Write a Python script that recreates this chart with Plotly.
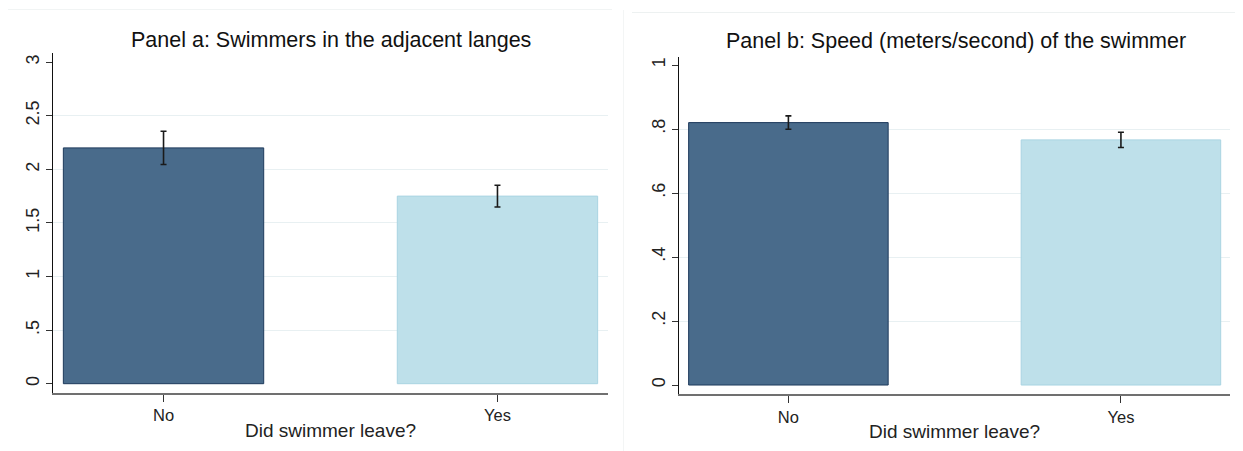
import plotly.graph_objects as go

categories = ["No", "Yes"]

# Panel a: swimmers in the adjacent lanes
panel_a_means = [2.20, 1.75]
panel_a_err = [0.155, 0.102]

# Panel b: speed (m/s)
panel_b_means = [0.820, 0.766]
panel_b_err = [0.021, 0.024]

panel_a_ticks = [0, 0.5, 1, 1.5, 2, 2.5, 3]
panel_a_ticktext = ["0", ".5", "1", "1.5", "2", "2.5", "3"]
panel_a_grid = [0.5, 1, 1.5, 2, 2.5]
panel_b_ticks = [0, 0.2, 0.4, 0.6, 0.8, 1]
panel_b_ticktext = ["0", ".2", ".4", ".6", ".8", "1"]
panel_b_grid = [0.2, 0.4, 0.6, 0.8]

bar_fill = ["#496B8B", "#BEE0EA"]
bar_line = ["#1E3A5C", "#A9D4E2"]

W, H = 1243, 451
OFF = 8  # page body margin
FONT = "Liberation Sans, Arial, sans-serif"

fig = go.Figure()

fig.add_trace(go.Bar(
    x=[0, 1], y=panel_a_means, width=0.6,
    marker=dict(color=bar_fill, line=dict(color=bar_line, width=1)),
    error_y=dict(type="data", array=panel_a_err, visible=True,
                 color="#1a1a1a", thickness=1.6, width=3),
    xaxis="x", yaxis="y", showlegend=False,
))
fig.add_trace(go.Bar(
    x=[0, 1], y=panel_b_means, width=0.6,
    marker=dict(color=bar_fill, line=dict(color=bar_line, width=1)),
    error_y=dict(type="data", array=panel_b_err, visible=True,
                 color="#1a1a1a", thickness=1.6, width=3),
    xaxis="x2", yaxis="y2", showlegend=False,
))

def px_x(p):
    return (p - OFF) / W

def px_y(p):
    return 1 - (p - OFF) / H

grid_col = "#E8F0F2"
xcommon = dict(
    tickvals=[0, 1], ticktext=categories, showline=True, linecolor="#707070",
    linewidth=1.6, ticks="outside", ticklen=7, tickcolor="#333",
    tickfont=dict(size=16.5, color="#222", family=FONT), showgrid=False,
    zeroline=False, title=dict(text="Did swimmer leave?", standoff=0,
                               font=dict(size=19, color="#222", family=FONT)),
)
ycommon = dict(
    showline=True, linecolor="#111", linewidth=1.2, ticks="outside",
    ticklen=6, tickcolor="#333", tickangle=-90,
    tickfont=dict(size=18, color="#222", family=FONT), showgrid=False,
    zeroline=False,
)

fig.update_layout(
    width=W, height=H, margin=dict(l=0, r=0, t=0, b=0),
    paper_bgcolor="white", plot_bgcolor="white",
    font=dict(family=FONT),
    xaxis=dict(domain=[px_x(53), px_x(608)], range=[-0.331, 1.331],
               anchor="y", **xcommon),
    yaxis=dict(domain=[px_y(392.7), px_y(52.7)], range=[-0.084, 3.088],
               anchor="x", tickvals=panel_a_ticks, ticktext=panel_a_ticktext,
               minor=dict(tickvals=panel_a_grid, showgrid=True,
                          gridcolor=grid_col, gridwidth=1.2, ticklen=0),
               **ycommon),
    xaxis2=dict(domain=[px_x(679), px_x(1230)], range=[-0.329, 1.328],
                anchor="y2", **xcommon),
    yaxis2=dict(domain=[px_y(394.3), px_y(57)], range=[-0.029, 1.025],
                anchor="x2", tickvals=panel_b_ticks, ticktext=panel_b_ticktext,
                minor=dict(tickvals=panel_b_grid, showgrid=True,
                           gridcolor=grid_col, gridwidth=1.2, ticklen=0),
                **ycommon),
    annotations=[
        dict(text="Panel a: Swimmers in the adjacent langes", x=px_x(331),
             y=px_y(40), xref="paper", yref="paper", showarrow=False,
             xanchor="center", yanchor="middle",
             font=dict(size=21.5, color="#111", family=FONT)),
        dict(text="Panel b: Speed (meters/second) of the swimmer", x=px_x(956),
             y=px_y(41), xref="paper", yref="paper", showarrow=False,
             xanchor="center", yanchor="middle",
             font=dict(size=21.5, color="#111", family=FONT)),
    ],
    shapes=[
        dict(type="line", xref="paper", yref="paper", x0=px_x(8), x1=px_x(612),
             y0=px_y(9.5), y1=px_y(9.5), line=dict(color="#F1F4F4", width=1)),
        dict(type="line", xref="paper", yref="paper", x0=px_x(632), x1=1,
             y0=px_y(12.5), y1=px_y(12.5), line=dict(color="#EDF1F1", width=1)),
        dict(type="line", xref="paper", yref="paper", x0=px_x(623.5), x1=px_x(623.5),
             y0=px_y(451), y1=px_y(10), line=dict(color="#F3F5F5", width=1)),
    ],
)

fig.write_html("out.html")
